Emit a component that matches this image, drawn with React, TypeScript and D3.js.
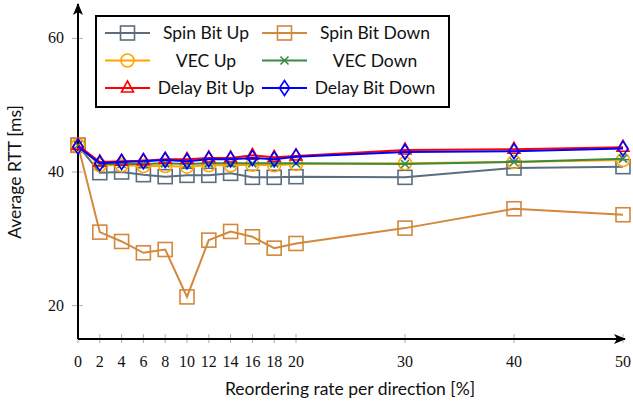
// Average RTT vs reordering rate - D3 line chart with pgfplots-like look

import * as d3 from "d3";

const xValues = [0, 2, 4, 6, 8, 10, 12, 14, 16, 18, 20, 30, 40, 50];
const xTicks = [0, 2, 4, 6, 8, 10, 12, 14, 16, 18, 20, 30, 40, 50];
const yTicks = [20, 40, 60];

const spinBitUp = [44.0, 39.9, 40.0, 39.6, 39.3, 39.5, 39.5, 39.8, 39.2, 39.2, 39.3, 39.2, 40.6, 40.8];
const spinBitDown = [44.0, 31.0, 29.6, 27.9, 28.4, 21.3, 29.8, 31.1, 30.3, 28.6, 29.3, 31.6, 34.5, 33.6];
const vecUp = [44.0, 41.0, 41.0, 40.9, 40.9, 40.8, 41.0, 41.0, 41.1, 41.0, 41.2, 41.3, 41.5, 41.8];
const vecDown = [44.0, 41.2, 41.2, 41.2, 41.3, 41.2, 41.3, 41.3, 41.3, 41.3, 41.3, 41.2, 41.5, 42.0];
const delayBitUp = [44.0, 41.5, 41.6, 41.7, 41.9, 41.9, 42.1, 42.1, 42.5, 42.2, 42.4, 43.3, 43.4, 43.7];
const delayBitDown = [43.8, 41.3, 41.5, 41.6, 41.8, 41.6, 41.9, 41.9, 42.1, 41.9, 42.3, 43.0, 43.1, 43.5];

type Marker = "square" | "circle" | "cross" | "triangle" | "diamond";

const series: { name: string; values: number[]; color: string; marker: Marker }[] = [
  { name: "Spin Bit Up", values: spinBitUp, color: "#5b6e7f", marker: "square" },
  { name: "Spin Bit Down", values: spinBitDown, color: "#d3883c", marker: "square" },
  { name: "VEC Up", values: vecUp, color: "#ffa500", marker: "circle" },
  { name: "VEC Down", values: vecDown, color: "#3b8a3f", marker: "cross" },
  { name: "Delay Bit Up", values: delayBitUp, color: "#ff0000", marker: "triangle" },
  { name: "Delay Bit Down", values: delayBitDown, color: "#0000ff", marker: "diamond" },
];

const width = 633;
const height = 408;
const sans = "Lato, 'Noto Sans', sans-serif";
const serif = "'Liberation Serif', 'DejaVu Serif', serif";

const x = d3.scaleLinear().domain([0, 50]).range([78, 623]);
const y = d3.scaleLinear().domain([15, 65]).range([339, 5]);

function MarkerShape({ type, cx, cy, color }: { type: Marker; cx: number; cy: number; color: string }) {
  const sw = 1.6;
  switch (type) {
    case "square":
      return <rect x={cx - 7} y={cy - 7} width={14} height={14} fill="none" stroke={color} strokeWidth={sw} />;
    case "circle":
      return <circle cx={cx} cy={cy} r={6.5} fill="none" stroke={color} strokeWidth={sw} />;
    case "cross":
      return (
        <path
          d={`M${cx - 4},${cy - 4}L${cx + 4},${cy + 4}M${cx - 4},${cy + 4}L${cx + 4},${cy - 4}`}
          stroke={color}
          strokeWidth={sw}
        />
      );
    case "triangle":
      return (
        <path
          d={`M${cx},${cy - 7}L${cx + 6},${cy + 4}L${cx - 6},${cy + 4}Z`}
          fill="none"
          stroke={color}
          strokeWidth={sw}
        />
      );
    case "diamond":
      return (
        <path
          d={`M${cx},${cy - 7.5}L${cx + 5},${cy}L${cx},${cy + 7.5}L${cx - 5},${cy}Z`}
          fill="none"
          stroke={color}
          strokeWidth={sw}
        />
      );
  }
}

export default function App() {
  const line = d3
    .line<number>()
    .x((_, i) => x(xValues[i]))
    .y((d) => y(d));

  // legend layout
  const legendX = 96;
  const legendY = 16;
  const legendW = 353;
  const legendH = 91;
  const rowGap = 27.5;
  const colOffsets = [9, 166];
  const textOffsets = [101, 113];

  return (
    <svg width={width} height={height} style={{ position: "absolute", left: 0, top: 0, background: "#fff" }}>
      <defs>
        <marker id="arrow" viewBox="0 0 12 10" refX="11" refY="5" markerWidth="12" markerHeight="10" markerUnits="userSpaceOnUse" orient="auto">
          <path d="M0,0 L12,5 L0,10 L3,5 Z" fill="#000" />
        </marker>
      </defs>

      {/* ticks */}
      {xTicks.map((t) => (
        <g key={`xt${t}`}>
          <line x1={x(t)} x2={x(t)} y1={y(15) - 5} y2={y(15) + 4} stroke="#999" strokeWidth={0.8} />
          <text x={x(t)} y={367} textAnchor="middle" fontFamily={serif} fontSize={16} fill="#111">
            {t}
          </text>
        </g>
      ))}
      {yTicks.map((t) => (
        <g key={`yt${t}`}>
          <line x1={72} x2={83} y1={y(t)} y2={y(t)} stroke="#999" strokeWidth={0.8} />
          <text x={64} y={y(t) + 5} textAnchor="end" fontFamily={serif} fontSize={16} fill="#111">
            {t}
          </text>
        </g>
      ))}

      {/* axes */}
      <line x1={x(0)} x2={x(50) + 2} y1={y(15)} y2={y(15)} stroke="#000" strokeWidth={2} markerEnd="url(#arrow)" />
      <line x1={x(0)} x2={x(0)} y1={y(15)} y2={y(65) - 1} stroke="#000" strokeWidth={2} markerEnd="url(#arrow)" />

      {/* series */}
      {series.map((s) => (
        <g key={s.name}>
          <path d={line(s.values) || ""} fill="none" stroke={s.color} strokeWidth={2} />
          {s.values.map((v, i) => (
            <MarkerShape key={i} type={s.marker} cx={x(xValues[i])} cy={y(v)} color={s.color} />
          ))}
        </g>
      ))}

      {/* axis titles */}
      <text x={350} y={395} textAnchor="middle" fontFamily={sans} fontSize={17.5} fill="#111">
        Reordering rate per direction [%]
      </text>
      <text
        transform={`translate(21, ${y(40)}) rotate(-90)`}
        textAnchor="middle"
        fontFamily={sans}
        fontSize={17.5}
        fill="#111"
      >
        Average RTT [ms]
      </text>

      {/* legend */}
      <rect x={legendX} y={legendY} width={legendW} height={legendH} fill="#fff" stroke="#000" strokeWidth={2} />
      {series.map((s, i) => {
        const col = i % 2;
        const row = Math.floor(i / 2);
        const lx = legendX + colOffsets[col];
        const ly = legendY + 17 + row * rowGap;
        return (
          <g key={`lg${s.name}`}>
            <line x1={lx} x2={lx + 45} y1={ly} y2={ly} stroke={s.color} strokeWidth={2} />
            <MarkerShape type={s.marker} cx={lx + 22.5} cy={ly} color={s.color} />
            <text x={lx + textOffsets[col]} y={ly + 6} textAnchor="middle" fontFamily={sans} fontSize={17.5} fill="#111">
              {s.name}
            </text>
          </g>
        );
      })}
    </svg>
  );
}
